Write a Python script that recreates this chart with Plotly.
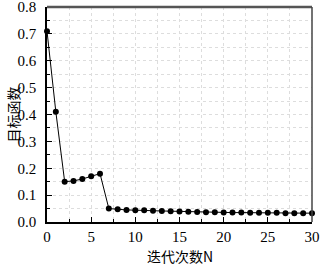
import plotly.graph_objects as go

# 迭代次数
iterations = list(range(0, 31))
# 目标函数值
objective = [0.71, 0.41, 0.150, 0.153, 0.160, 0.170, 0.180, 0.050, 0.047, 0.045,
             0.044, 0.044, 0.042, 0.041, 0.040, 0.039, 0.038, 0.037, 0.036, 0.036,
             0.035, 0.035, 0.035, 0.034, 0.034, 0.034, 0.034, 0.033, 0.033, 0.033,
             0.033]

x_ticks = [0, 5, 10, 15, 20, 25, 30]
y_ticks = [0.0, 0.1, 0.2, 0.3, 0.4, 0.5, 0.6, 0.7, 0.8]
y_ticktext = ["0.0", "0.1", "0.2", "0.3", "0.4", "0.5", "0.6", "0.7", "0.8"]

x_title = "迭代次数N"
y_title = "目标函数"

tick_font = dict(family="Liberation Serif", size=15, color="black")
cjk_font = dict(family="Noto Sans CJK SC", size=14, color="black")

fig = go.Figure(go.Scatter(
    x=iterations,
    y=objective,
    mode="lines+markers",
    line=dict(color="black", width=1),
    marker=dict(color="black", size=6),
    cliponaxis=False,
))

grid = dict(showgrid=True, gridcolor="#dddddd", griddash="dot", gridwidth=1)

fig.update_layout(
    width=321,
    height=265,
    margin=dict(l=47, r=9, t=7, b=43, autoexpand=False),
    plot_bgcolor="white",
    paper_bgcolor="white",
    showlegend=False,
    xaxis=dict(
        range=[0, 30.001],
        tickvals=x_ticks,
        ticks="inside",
        ticklen=5,
        tickcolor="black",
        showline=True,
        linecolor="black",
        linewidth=1.5,
        tickfont=tick_font,
        ticklabeloverflow="allow",
        automargin=False,
        zeroline=False,
        minor=dict(dtick=2.5, ticks="inside", ticklen=3, tickcolor="black",
                   showgrid=True, gridcolor="#dddddd", griddash="dot"),
        **grid,
    ),
    yaxis=dict(
        range=[0, 0.8001],
        tickvals=y_ticks,
        ticktext=y_ticktext,
        ticks="inside",
        ticklen=5,
        tickcolor="black",
        showline=True,
        linecolor="black",
        linewidth=1.5,
        tickfont=tick_font,
        ticklabelstandoff=6,
        ticklabeloverflow="allow",
        automargin=False,
        zeroline=False,
        minor=dict(dtick=0.05, ticks="inside", ticklen=3, tickcolor="black",
                   showgrid=True, gridcolor="#dddddd", griddash="dot"),
        **grid,
    ),
    shapes=[
        dict(type="line", xref="paper", yref="paper", x0=0, x1=1, y0=1, y1=1,
             line=dict(color="#555555", width=2.5)),
        dict(type="line", xref="paper", yref="paper", x0=1, x1=1, y0=0, y1=1,
             line=dict(color="#444444", width=1.5)),
    ],
    annotations=[
        dict(text=x_title, xref="paper", yref="paper", x=0.5, y=0,
             yshift=-34, xanchor="center", yanchor="middle",
             showarrow=False, font=cjk_font),
        dict(text=y_title, xref="paper", yref="paper", x=0, y=0.5,
             xshift=-35, xanchor="center", yanchor="middle", textangle=-90,
             showarrow=False, font=cjk_font),
    ],
)

# ページ余白を消す
fig.write_html("out.html", config={"displayModeBar": False},
               post_script="document.body.style.margin='0';")
